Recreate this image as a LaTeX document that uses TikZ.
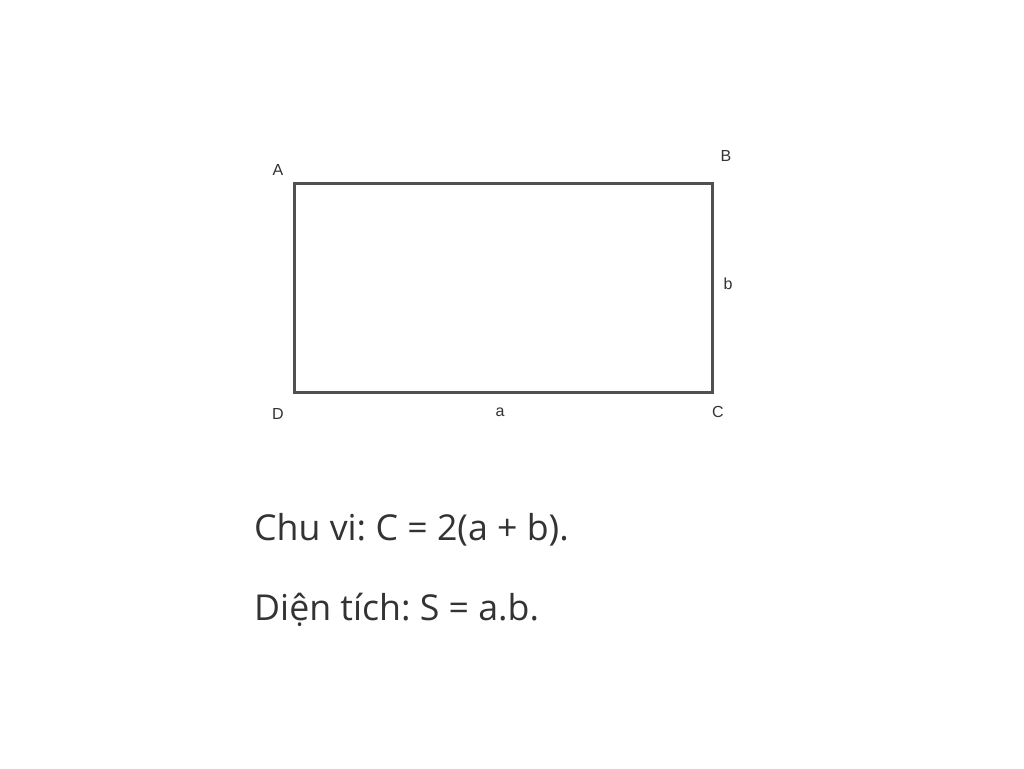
\documentclass[tikz,border=0pt]{standalone}
\usepackage{fontspec}
\setmainfont{Open Sans}
\newfontfamily\labfont{Liberation Sans}
\definecolor{edge}{HTML}{505050}
\definecolor{txt}{HTML}{333333}
\frenchspacing
\begin{document}
\begin{tikzpicture}[x=1pt,y=-1pt,
  lab/.style={inner sep=0pt, text=txt, font=\labfont\fontsize{16}{18}\selectfont},
  body/.style={inner sep=0pt, anchor=base west, text=txt, font=\frenchspacing\fontsize{35.7}{42}\selectfont}]
\useasboundingbox[fill=white] (0,0) rectangle (1024,768);
\coordinate (A) at (294,183);
\coordinate (B) at (712,183);
\coordinate (C) at (712,392);
\coordinate (D) at (294,392);
\draw[edge, line width=3pt, line join=miter] (A) -- (B) -- (C) -- (D) -- cycle;
\node[lab] (lA) at (278,170) {A};
\node[lab] (lB) at (726,156) {B};
\node[lab] (lb) at (728,284) {b};
\node[lab] (lD) at (278,414) {D};
\node[lab] (la) at (500,412) {a};
\node[lab] (lC) at (718,412) {C};
\node[body] (t1) at (254,540) {Chu vi: C = 2(a + b).};
\node[body] (t2) at (254,620) {Diện tích: S = a.b.};
\end{tikzpicture}
\end{document}
